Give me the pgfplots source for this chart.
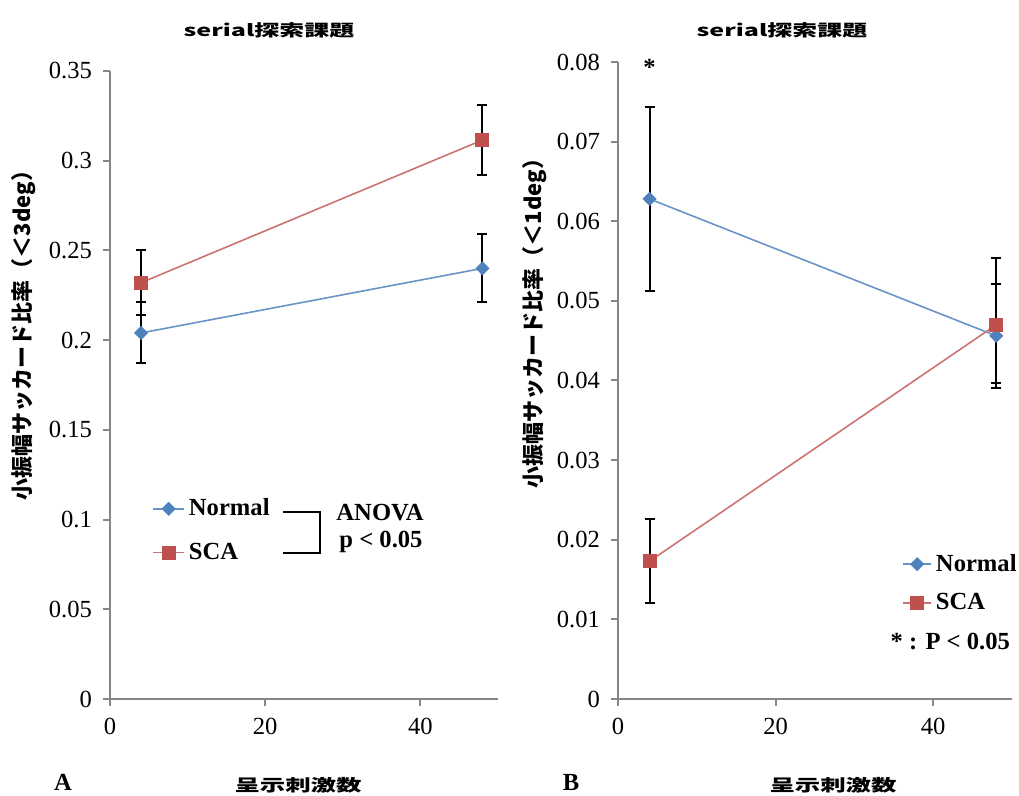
\documentclass[border=0pt]{standalone}
\usepackage{pgfplots}
\pgfplotsset{compat=1.18}
\usepackage{fontspec}
\setmainfont{Liberation Serif}
\newfontfamily\jp{Noto Sans CJK JP}

\definecolor{nblue}{HTML}{4F81BD}
\definecolor{sred}{HTML}{C0504D}
\definecolor{axgray}{HTML}{868686}

\newcommand{\tickfont}{\fontsize{12.3}{14}\selectfont}
\newcommand{\legfont}{\fontsize{12.3}{14}\selectfont\bfseries}

\pgfplotsset{
  panel/.style={
    scale only axis,
    anchor=south west,
    xmin=0, xmax=50,
    ymin=0,
    axis x line*=bottom,
    axis y line*=left,
    axis line style={axgray, line width=1pt, -},
    tick align=outside,
    major tick length=3.5pt,
    every tick/.style={axgray, line width=1pt},
    xtick={0,20,40},
    tick label style={font=\tickfont},
    /pgf/number format/assume math mode=true,
    scaled y ticks=false,
    yticklabel style={/pgf/number format/fixed, /pgf/number format/precision=2, xshift=-2pt},
    xticklabel style={yshift=-2.5pt},
    clip=false,
    legend cell align=left,
    every axis plot/.append style={line width=0.8pt},
    error bars/error bar style={black, line width=1pt},
    error bars/error mark options={rotate=90, black, mark size=2.5pt, line width=1pt},
  },
  normal/.style={nblue!85!white, mark=square*, mark size=2.1pt, mark options={rotate=45, fill=nblue, draw=nblue}},
  sca/.style={sred!80!white, mark=square*, mark size=3.1pt, mark options={fill=sred, draw=sred}},
}

\begin{document}
\begin{tikzpicture}
\useasboundingbox (0pt,0pt) rectangle (509.5pt,398pt);

% Panel A: amplitude < 3 deg
\begin{axis}[panel,
  at={(55pt,48.5pt)}, width=194pt, height=314pt,
  ymax=0.35, ytick={0,0.05,...,0.35},
  legend style={at={(0.1082,0.2683)}, anchor=west, draw=none, fill=none,
    inner sep=0pt, font=\legfont, row sep=8pt,
    /tikz/every odd column/.style={column sep=0pt}},
  legend image code/.code={\draw[mark repeat=2,mark phase=2,#1] plot coordinates {(0pt,0pt) (7.75pt,0pt) (15.5pt,0pt)};},
]
\addplot+[normal, error bars/.cd, y dir=both, y explicit]
  coordinates {(4,0.204) +- (0,0.017) (48,0.240) +- (0,0.019)};
\addlegendentry{Normal}
\addplot+[sca, error bars/.cd, y dir=both, y explicit]
  coordinates {(4,0.232) +- (0,0.018) (48,0.3115) +- (0,0.0195)};
\addlegendentry{SCA}
\end{axis}

% Panel B: amplitude < 1 deg
\begin{axis}[panel,
  at={(309pt,48.5pt)}, width=197pt, height=318.5pt,
  ymax=0.08, ytick={0,0.01,...,0.08},
  legend style={at={(0.7208,0.1815)}, anchor=west, draw=none, fill=none,
    inner sep=0pt, font=\legfont, row sep=5.5pt,
    /tikz/every odd column/.style={column sep=0pt}},
  legend image code/.code={\draw[mark repeat=2,mark phase=2,#1] plot coordinates {(0pt,0pt) (7pt,0pt) (14pt,0pt)};},
]
\addplot+[normal, error bars/.cd, y dir=both, y explicit]
  coordinates {(4,0.0628) +- (0,0.0115) (48,0.0456) +- (0,0.0065)};
\addlegendentry{Normal}
\addplot+[sca, error bars/.cd, y dir=both, y explicit]
  coordinates {(4,0.0173) +- (0,0.0053) (48,0.0470) += (0,0.0084) -= (0,0.0073)};
\addlegendentry{SCA}
\node[font=\legfont] at (axis cs:4,0.0793) {*};
\end{axis}

% titles
\node at (134.5pt,383pt) {\scalebox{1}[0.65]{\fontsize{12.5}{14}\jp\bfseries serial探索課題}};
\node at (391pt,383pt) {\scalebox{1}[0.65]{\fontsize{12.5}{14}\jp\bfseries serial探索課題}};

% y labels
\node[rotate=90] at (12pt,233pt) {\fontsize{11}{12}\jp\bfseries 小振幅サッカード比率（＜3deg）};
\node[rotate=90] at (267.5pt,239pt) {\fontsize{11}{12}\jp\bfseries 小振幅サッカード比率（＜1deg）};

% x labels
\node at (149pt,5.5pt) {\scalebox{1}[0.65]{\fontsize{12.7}{14}\jp\bfseries 呈示刺激数}};
\node at (416.5pt,5.5pt) {\scalebox{1}[0.65]{\fontsize{12.7}{14}\jp\bfseries 呈示刺激数}};

% panel letters
\node[font=\legfont] at (31.5pt,7pt) {A};
\node[font=\legfont] at (285.5pt,7pt) {B};

% significance notes
\draw[black, line width=1pt] (141.5pt,142.15pt) -- (160pt,142.15pt) -- (160pt,121.65pt) -- (141.5pt,121.65pt);
\node[font=\legfont] at (190pt,141.5pt) {ANOVA};
\node[font=\legfont] at (190.5pt,127pt) {p \textless{} 0.05};
\node[font=\legfont, anchor=east] at (508.5pt,77pt) {* : P \textless{} 0.05};
\end{tikzpicture}
\end{document}
